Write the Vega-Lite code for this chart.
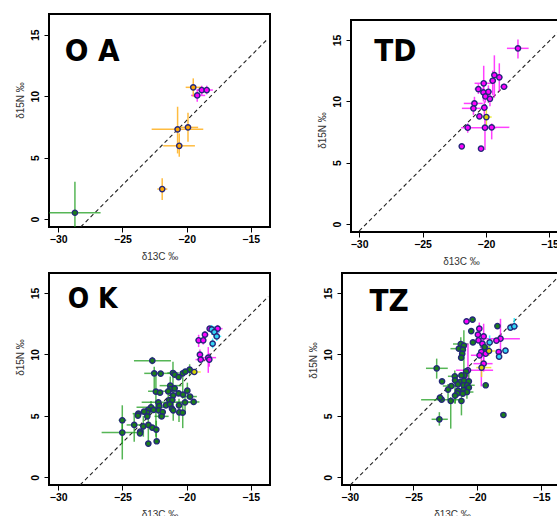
{
"$schema": "https://vega.github.io/schema/vega-lite/v6.json",
"padding": {"left": 14, "top": 13, "right": 0, "bottom": 0},
"config": {
  "view": {"stroke": "#000000", "strokeWidth": 2},
  "font": "Liberation Sans",
  "axis": {"grid": false, "domain": false, "tickColor": "#000000", "tickSize": 5, "tickWidth": 1, "labelFontSize": 10.5, "labelFontWeight": "bold", "labelColor": "#000000", "titleFontSize": 10, "titleFontWeight": "normal", "titleColor": "#333333", "labelFont": "Liberation Sans", "titleFont": "Liberation Sans"},
  "axisX": {"labelPadding": 2, "titlePadding": 7},
  "axisY": {"labelAngle": 270, "labelPadding": 4, "titlePadding": 5}
},
"datasets": {
  "lines": [
    {"p": "OA", "x1": -28.25, "y1": -0.65, "x2": -13.64, "y2": 14.7},
    {"p": "TD", "x1": -30.0, "y1": -0.57, "x2": -14.28, "y2": 15.67},
    {"p": "OK", "x1": -28.3, "y1": -0.63, "x2": -13.64, "y2": 14.7},
    {"p": "TZ", "x1": -29.95, "y1": -0.63, "x2": -13.63, "y2": 16.33}
  ],
  "labels": [
    {"p": "OA", "t": "O A", "x": -29.5, "y": 12.85},
    {"p": "TD", "t": "TD", "x": -28.8, "y": 13.3},
    {"p": "OK", "t": "O K", "x": -29.25, "y": 13.75},
    {"p": "TZ", "t": "TZ", "x": -28.45, "y": 13.5}
  ],
  "pts": [
    {"p": "OA", "g": "orange", "x": -19.48, "y": 10.72, "xl": -20.07, "xh": -18.82, "yl": 9.95, "yh": 11.45},
    {"p": "OA", "g": "orange", "x": -20.7, "y": 7.3, "xl": -22.72, "xh": -18.7, "yl": 5.34, "yh": 9.14},
    {"p": "OA", "g": "orange", "x": -19.89, "y": 7.46, "xl": -20.5, "xh": -19.1, "yl": 6.29, "yh": 8.65},
    {"p": "OA", "g": "orange", "x": -20.57, "y": 5.96, "xl": -21.82, "xh": -19.35, "yl": 5.07, "yh": 6.97},
    {"p": "OA", "g": "orange", "x": -21.9, "y": 2.44, "xl": -22.28, "xh": -21.5, "yl": 1.55, "yh": 3.31},
    {"p": "OA", "g": "green", "x": -28.7, "y": 0.51, "xl": -30.7, "xh": -26.7, "yl": -2.0, "yh": 3.04},
    {"p": "OA", "g": "magenta", "x": -18.82, "y": 10.5, "xl": -19.2, "xh": -18.45, "yl": 10.1, "yh": 10.85},
    {"p": "OA", "g": "magenta", "x": -18.43, "y": 10.5, "xl": -18.8, "xh": -17.95, "yl": 10.15, "yh": 10.85},
    {"p": "OA", "g": "magenta", "x": -19.17, "y": 10.06, "xl": -19.65, "xh": -18.55, "yl": 9.55, "yh": 10.55},

    {"p": "TD", "g": "magenta", "x": -17.48, "y": 14.32, "xl": -18.35, "xh": -16.64, "yl": 13.5, "yh": 15.05},
    {"p": "TD", "g": "magenta", "x": -19.34, "y": 12.14, "xl": -19.6, "xh": -19.05, "yl": 10.3, "yh": 13.75},
    {"p": "TD", "g": "magenta", "x": -18.95, "y": 11.96, "xl": -19.2, "xh": -18.7, "yl": 10.8, "yh": 13.1},
    {"p": "TD", "g": "magenta", "x": -19.47, "y": 11.68, "xl": -19.75, "xh": -19.2, "yl": 10.5, "yh": 12.5},
    {"p": "TD", "g": "magenta", "x": -20.18, "y": 11.47, "xl": -20.9, "xh": -19.47, "yl": 10.2, "yh": 12.9},
    {"p": "TD", "g": "magenta", "x": -18.58, "y": 11.19, "xl": -18.87, "xh": -18.29, "yl": 10.95, "yh": 11.45},
    {"p": "TD", "g": "magenta", "x": -20.6, "y": 11.0, "xl": -20.9, "xh": -20.2, "yl": 10.6, "yh": 11.4},
    {"p": "TD", "g": "magenta", "x": -20.2, "y": 10.73, "xl": -20.5, "xh": -19.9, "yl": 10.0, "yh": 11.3},
    {"p": "TD", "g": "magenta", "x": -19.81, "y": 10.78, "xl": -20.1, "xh": -19.5, "yl": 10.3, "yh": 11.3},
    {"p": "TD", "g": "magenta", "x": -20.05, "y": 10.4, "xl": -20.3, "xh": -19.8, "yl": 9.9, "yh": 10.9},
    {"p": "TD", "g": "magenta", "x": -19.69, "y": 10.21, "xl": -19.95, "xh": -19.45, "yl": 9.6, "yh": 10.8},
    {"p": "TD", "g": "magenta", "x": -20.91, "y": 9.83, "xl": -21.75, "xh": -20.26, "yl": 9.29, "yh": 10.37},
    {"p": "TD", "g": "magenta", "x": -20.99, "y": 9.43, "xl": -21.9, "xh": -20.1, "yl": 8.9, "yh": 9.9},
    {"p": "TD", "g": "magenta", "x": -20.13, "y": 9.48, "xl": -20.4, "xh": -19.85, "yl": 8.6, "yh": 10.0},
    {"p": "TD", "g": "magenta", "x": -20.52, "y": 8.78},
    {"p": "TD", "g": "yellow", "x": -19.97, "y": 8.72, "xl": -20.3, "xh": -19.55, "yl": 8.0, "yh": 9.3},
    {"p": "TD", "g": "magenta", "x": -21.44, "y": 7.85, "xl": -21.6, "xh": -21.2, "yl": 7.44, "yh": 8.2},
    {"p": "TD", "g": "magenta", "x": -20.08, "y": 7.85, "xl": -21.96, "xh": -19.2, "yl": 6.03, "yh": 8.88},
    {"p": "TD", "g": "magenta", "x": -19.55, "y": 7.88, "xl": -20.0, "xh": -18.16, "yl": 6.9, "yh": 8.2},
    {"p": "TD", "g": "magenta", "x": -21.91, "y": 6.33},
    {"p": "TD", "g": "magenta", "x": -20.39, "y": 6.14},

    {"p": "OK", "g": "green", "x": -22.67, "y": 9.49, "xl": -24.1, "xh": -21.22, "yl": 9.2, "yh": 9.8},
    {"p": "OK", "g": "green", "x": -22.52, "y": 8.46, "xl": -23.3, "xh": -21.04, "yl": 7.0, "yh": 9.0},
    {"p": "OK", "g": "green", "x": -22.02, "y": 8.44},
    {"p": "OK", "g": "green", "x": -21.06, "y": 8.49, "xl": -21.5, "xh": -20.6, "yl": 6.5, "yh": 9.4},
    {"p": "OK", "g": "green", "x": -20.93, "y": 8.36},
    {"p": "OK", "g": "green", "x": -20.3, "y": 8.46, "yl": 6.4, "yh": 8.6},
    {"p": "OK", "g": "green", "x": -20.62, "y": 8.16},
    {"p": "OK", "g": "green", "x": -19.76, "y": 8.76, "xl": -20.1, "xh": -19.4, "yl": 8.3, "yh": 9.2},
    {"p": "OK", "g": "green", "x": -20.1, "y": 8.6},
    {"p": "OK", "g": "green", "x": -21.27, "y": 7.46, "xl": -22.1, "xh": -20.4, "yl": 6.6, "yh": 8.2},
    {"p": "OK", "g": "green", "x": -21.24, "y": 7.19},
    {"p": "OK", "g": "green", "x": -20.93, "y": 7.24},
    {"p": "OK", "g": "green", "x": -21.43, "y": 7.0, "xl": -23.0, "xh": -20.5, "yl": 6.5, "yh": 7.5},
    {"p": "OK", "g": "green", "x": -22.39, "y": 6.97, "yl": 3.3, "yh": 8.4},
    {"p": "OK", "g": "green", "x": -22.07, "y": 6.89},
    {"p": "OK", "g": "green", "x": -19.94, "y": 7.05, "yl": 6.4, "yh": 7.7},
    {"p": "OK", "g": "green", "x": -20.62, "y": 6.83},
    {"p": "OK", "g": "green", "x": -20.28, "y": 6.73},
    {"p": "OK", "g": "green", "x": -19.73, "y": 6.57, "xl": -20.2, "xh": -19.2},
    {"p": "OK", "g": "green", "x": -21.04, "y": 6.67},
    {"p": "OK", "g": "green", "x": -21.35, "y": 6.29},
    {"p": "OK", "g": "green", "x": -21.11, "y": 6.29},
    {"p": "OK", "g": "green", "x": -20.12, "y": 6.1, "xl": -20.8, "xh": -19.2, "yl": 5.2, "yh": 7.1},
    {"p": "OK", "g": "green", "x": -19.45, "y": 6.13, "xl": -19.9, "xh": -19.0},
    {"p": "OK", "g": "green", "x": -22.2, "y": 6.1, "xl": -23.5, "xh": -20.26},
    {"p": "OK", "g": "green", "x": -22.13, "y": 5.8},
    {"p": "OK", "g": "green", "x": -21.61, "y": 5.86},
    {"p": "OK", "g": "green", "x": -21.3, "y": 5.94},
    {"p": "OK", "g": "green", "x": -20.59, "y": 5.86, "yl": 4.5, "yh": 6.4},
    {"p": "OK", "g": "green", "x": -21.14, "y": 5.59},
    {"p": "OK", "g": "green", "x": -21.04, "y": 5.45, "yl": 4.6, "yh": 6.2},
    {"p": "OK", "g": "green", "x": -20.57, "y": 5.29},
    {"p": "OK", "g": "green", "x": -20.3, "y": 5.26, "yl": 4.0, "yh": 6.0},
    {"p": "OK", "g": "green", "x": -22.77, "y": 5.7, "xl": -23.9, "xh": -21.7, "yl": 5.2, "yh": 6.2},
    {"p": "OK", "g": "green", "x": -22.99, "y": 5.48},
    {"p": "OK", "g": "green", "x": -22.57, "y": 5.48},
    {"p": "OK", "g": "green", "x": -22.17, "y": 5.45, "yl": 4.8, "yh": 6.0},
    {"p": "OK", "g": "green", "x": -21.86, "y": 5.31},
    {"p": "OK", "g": "green", "x": -23.06, "y": 5.26},
    {"p": "OK", "g": "green", "x": -23.32, "y": 5.35},
    {"p": "OK", "g": "green", "x": -23.76, "y": 5.18, "xl": -24.2, "xh": -23.2},
    {"p": "OK", "g": "green", "x": -23.79, "y": 5.02},
    {"p": "OK", "g": "green", "x": -23.06, "y": 4.96},
    {"p": "OK", "g": "green", "x": -21.94, "y": 4.96, "xl": -22.5, "xh": -21.4},
    {"p": "OK", "g": "green", "x": -25.01, "y": 4.64, "xl": -25.3, "xh": -24.7, "yl": 2.74, "yh": 5.86},
    {"p": "OK", "g": "green", "x": -24.08, "y": 4.26, "xl": -24.67, "xh": -22.7, "yl": 2.9, "yh": 5.2},
    {"p": "OK", "g": "green", "x": -23.37, "y": 4.15, "yl": 3.3, "yh": 5.0},
    {"p": "OK", "g": "green", "x": -22.98, "y": 4.26, "yl": 2.47, "yh": 4.9},
    {"p": "OK", "g": "green", "x": -22.67, "y": 4.04},
    {"p": "OK", "g": "green", "x": -22.36, "y": 3.88, "yl": 3.2, "yh": 4.6},
    {"p": "OK", "g": "green", "x": -23.61, "y": 3.72},
    {"p": "OK", "g": "green", "x": -23.63, "y": 3.58},
    {"p": "OK", "g": "green", "x": -25.01, "y": 3.64, "xl": -26.62, "xh": -23.5, "yl": 1.45, "yh": 4.7},
    {"p": "OK", "g": "green", "x": -22.98, "y": 2.74},
    {"p": "OK", "g": "green", "x": -22.33, "y": 2.93},
    {"p": "OK", "g": "yellow", "x": -19.4, "y": 8.57, "xl": -19.8, "xh": -18.9, "yl": 8.35, "yh": 8.8},
    {"p": "OK", "g": "magenta", "x": -18.57, "y": 11.61, "xl": -18.8, "xh": -18.3, "yl": 11.3, "yh": 11.9},
    {"p": "OK", "g": "magenta", "x": -19.06, "y": 11.15, "xl": -19.3, "xh": -18.8, "yl": 10.6, "yh": 11.6},
    {"p": "OK", "g": "magenta", "x": -18.7, "y": 11.15, "yl": 10.8, "yh": 11.5},
    {"p": "OK", "g": "magenta", "x": -18.96, "y": 9.98, "xl": -19.2, "xh": -18.7, "yl": 9.6, "yh": 10.4},
    {"p": "OK", "g": "magenta", "x": -18.9, "y": 9.58, "xl": -19.3, "xh": -18.4},
    {"p": "OK", "g": "magenta", "x": -18.31, "y": 9.74, "xl": -18.9, "xh": -17.7, "yl": 8.5, "yh": 10.6},
    {"p": "OK", "g": "magenta", "x": -18.23, "y": 9.58, "yl": 9.0, "yh": 10.1},
    {"p": "OK", "g": "magenta", "x": -17.58, "y": 12.1, "xl": -17.9, "xh": -17.2, "yl": 11.7, "yh": 12.4},
    {"p": "OK", "g": "magenta", "x": -18.2, "y": 12.1},
    {"p": "OK", "g": "cyan", "x": -18.04, "y": 12.04, "xl": -18.4, "xh": -17.6, "yl": 11.6, "yh": 12.4},
    {"p": "OK", "g": "cyan", "x": -17.84, "y": 11.82, "xl": -18.2, "xh": -17.4, "yl": 11.4, "yh": 12.3},
    {"p": "OK", "g": "cyan", "x": -17.65, "y": 11.47, "xl": -17.9, "xh": -17.3, "yl": 11.1, "yh": 11.9},
    {"p": "OK", "g": "cyan", "x": -17.97, "y": 10.88, "yl": 10.5, "yh": 11.3},

    {"p": "TZ", "g": "magenta", "x": -20.84, "y": 12.69},
    {"p": "TZ", "g": "magenta", "x": -19.84, "y": 12.1, "yl": 11.5, "yh": 12.6},
    {"p": "TZ", "g": "magenta", "x": -19.95, "y": 11.61},
    {"p": "TZ", "g": "magenta", "x": -19.5, "y": 11.47, "yl": 9.0, "yh": 12.5},
    {"p": "TZ", "g": "magenta", "x": -19.9, "y": 11.15},
    {"p": "TZ", "g": "magenta", "x": -19.6, "y": 10.88},
    {"p": "TZ", "g": "magenta", "x": -18.18, "y": 11.28, "xl": -19.7, "xh": -16.66, "yl": 10.06, "yh": 12.9},
    {"p": "TZ", "g": "magenta", "x": -18.5, "y": 11.12},
    {"p": "TZ", "g": "magenta", "x": -19.68, "y": 10.2, "yl": 7.4, "yh": 10.6},
    {"p": "TZ", "g": "magenta", "x": -19.34, "y": 10.06},
    {"p": "TZ", "g": "magenta", "x": -19.82, "y": 9.93, "xl": -20.5, "xh": -19.2},
    {"p": "TZ", "g": "magenta", "x": -19.5, "y": 9.25, "xl": -20.3, "xh": -18.8, "yl": 8.6, "yh": 9.9},
    {"p": "TZ", "g": "magenta", "x": -20.73, "y": 8.71, "xl": -21.66, "xh": -18.76, "yl": 7.2, "yh": 10.9},
    {"p": "TZ", "g": "magenta", "x": -18.32, "y": 10.2},
    {"p": "TZ", "g": "cyan", "x": -17.4, "y": 12.18},
    {"p": "TZ", "g": "cyan", "x": -17.1, "y": 12.29, "xl": -17.53, "xh": -16.79, "yl": 11.97, "yh": 12.97},
    {"p": "TZ", "g": "cyan", "x": -17.79, "y": 10.31},
    {"p": "TZ", "g": "cyan", "x": -18.29, "y": 9.82, "yl": 9.6, "yh": 10.4},
    {"p": "TZ", "g": "cyan", "x": -19.03, "y": 10.98, "yl": 10.47, "yh": 11.55},
    {"p": "TZ", "g": "yellow", "x": -19.08, "y": 10.28, "xl": -19.5, "xh": -18.6, "yl": 9.9, "yh": 10.7},
    {"p": "TZ", "g": "yellow", "x": -19.66, "y": 8.93, "xl": -20.08, "xh": -18.9, "yl": 8.16, "yh": 9.52},
    {"p": "TZ", "g": "green", "x": -20.37, "y": 12.83},
    {"p": "TZ", "g": "green", "x": -20.47, "y": 11.9},
    {"p": "TZ", "g": "green", "x": -18.42, "y": 12.31},
    {"p": "TZ", "g": "green", "x": -20.34, "y": 10.98},
    {"p": "TZ", "g": "green", "x": -21.29, "y": 10.85, "xl": -21.9, "xh": -20.7, "yl": 10.3, "yh": 11.4},
    {"p": "TZ", "g": "green", "x": -21.05, "y": 10.72, "yl": 7.75, "yh": 11.96},
    {"p": "TZ", "g": "green", "x": -21.44, "y": 10.47, "xl": -22.1, "xh": -20.9},
    {"p": "TZ", "g": "green", "x": -21.13, "y": 10.39},
    {"p": "TZ", "g": "green", "x": -21.18, "y": 10.06, "yl": 9.5, "yh": 10.6},
    {"p": "TZ", "g": "green", "x": -21.26, "y": 9.74},
    {"p": "TZ", "g": "green", "x": -19.42, "y": 10.6, "xl": -19.8, "xh": -19.0, "yl": 10.2, "yh": 11.0},
    {"p": "TZ", "g": "green", "x": -20.87, "y": 8.62},
    {"p": "TZ", "g": "green", "x": -23.18, "y": 8.87, "xl": -24.02, "xh": -22.31, "yl": 8.03, "yh": 9.66},
    {"p": "TZ", "g": "green", "x": -21.0, "y": 8.3},
    {"p": "TZ", "g": "green", "x": -21.76, "y": 8.22, "xl": -22.3, "xh": -21.2, "yl": 7.6, "yh": 8.7},
    {"p": "TZ", "g": "green", "x": -21.24, "y": 8.3},
    {"p": "TZ", "g": "green", "x": -22.76, "y": 7.81},
    {"p": "TZ", "g": "green", "x": -21.74, "y": 7.89, "yl": 6.0, "yh": 8.4},
    {"p": "TZ", "g": "green", "x": -21.32, "y": 7.76, "xl": -21.8, "xh": -20.8},
    {"p": "TZ", "g": "green", "x": -21.03, "y": 7.87},
    {"p": "TZ", "g": "green", "x": -20.66, "y": 7.81, "yl": 7.0, "yh": 8.6},
    {"p": "TZ", "g": "green", "x": -22.03, "y": 7.43, "xl": -22.7, "xh": -21.5},
    {"p": "TZ", "g": "green", "x": -21.52, "y": 7.57},
    {"p": "TZ", "g": "green", "x": -21.08, "y": 7.49, "yl": 6.8, "yh": 8.1},
    {"p": "TZ", "g": "green", "x": -20.79, "y": 7.49, "xl": -21.3, "xh": -20.2},
    {"p": "TZ", "g": "green", "x": -20.66, "y": 7.3},
    {"p": "TZ", "g": "green", "x": -22.29, "y": 7.14, "yl": 6.3, "yh": 7.6},
    {"p": "TZ", "g": "green", "x": -21.5, "y": 7.05},
    {"p": "TZ", "g": "green", "x": -21.08, "y": 7.1},
    {"p": "TZ", "g": "green", "x": -20.81, "y": 6.94, "xl": -21.3, "xh": -20.3, "yl": 6.4, "yh": 7.5},
    {"p": "TZ", "g": "green", "x": -21.55, "y": 6.83},
    {"p": "TZ", "g": "green", "x": -21.74, "y": 6.65, "yl": 6.0, "yh": 7.2},
    {"p": "TZ", "g": "green", "x": -21.13, "y": 6.81},
    {"p": "TZ", "g": "green", "x": -19.34, "y": 7.49},
    {"p": "TZ", "g": "green", "x": -21.24, "y": 6.21, "yl": 5.04, "yh": 7.08},
    {"p": "TZ", "g": "green", "x": -22.08, "y": 6.21, "yl": 3.96, "yh": 6.53},
    {"p": "TZ", "g": "green", "x": -22.79, "y": 6.32, "xl": -24.4, "xh": -21.4},
    {"p": "TZ", "g": "green", "x": -22.92, "y": 6.48},
    {"p": "TZ", "g": "green", "x": -22.97, "y": 4.72, "xl": -23.58, "xh": -22.31, "yl": 4.2, "yh": 5.3},
    {"p": "TZ", "g": "green", "x": -17.95, "y": 5.07}
  ]
},
"spacing": 4,
"vconcat": [
  {"hconcat": [
    {"width": 221, "height": 213,
     "layer": [
      {"data": {"name": "lines"}, "transform": [{"filter": "datum.p === 'OA'"}],
       "mark": {"type": "rule", "strokeDash": [4, 3], "color": "#222222", "strokeWidth": 1.1, "clip": true},
       "encoding": {"x": {"field": "x1", "type": "quantitative", "scale": {"domain": [-30.72, -13.5], "nice": false, "zero": false}, "axis": {"values": [-30, -25, -20, -15], "title": "δ13C ‰"}},
                    "y": {"field": "y1", "type": "quantitative", "scale": {"domain": [-0.65, 16.69], "nice": false, "zero": false}, "axis": {"values": [0, 5, 10, 15], "title": "δ15N ‰", "titleY": 86}},
                    "x2": {"field": "x2"}, "y2": {"field": "y2"}}},
      {"data": {"name": "pts"}, "transform": [{"filter": "datum.p === 'OA' && isValid(datum.xl)"}],
       "mark": {"type": "rule", "strokeWidth": 1.5, "opacity": 0.75, "clip": true},
       "encoding": {"x": {"field": "xl", "type": "quantitative"}, "x2": {"field": "xh"}, "y": {"field": "y", "type": "quantitative"},
                    "color": {"field": "g", "type": "nominal", "scale": {"domain": ["orange", "magenta", "green", "cyan", "yellow"], "range": ["#FFA500", "#FF00FF", "#1E9E1E", "#00E5FF", "#E6E600"]}, "legend": null}}},
      {"data": {"name": "pts"}, "transform": [{"filter": "datum.p === 'OA' && isValid(datum.yl)"}],
       "mark": {"type": "rule", "strokeWidth": 1.5, "opacity": 0.75, "clip": true},
       "encoding": {"x": {"field": "x", "type": "quantitative"}, "y": {"field": "yl", "type": "quantitative"}, "y2": {"field": "yh"},
                    "color": {"field": "g", "type": "nominal", "legend": null}}},
      {"data": {"name": "pts"}, "transform": [{"filter": "datum.p === 'OA'"}],
       "mark": {"type": "circle", "size": 28, "stroke": "#25287a", "strokeWidth": 1.4, "opacity": 1, "clip": true},
       "encoding": {"x": {"field": "x", "type": "quantitative"}, "y": {"field": "y", "type": "quantitative"},
                    "fill": {"field": "g", "type": "nominal", "scale": {"domain": ["orange", "magenta", "green", "cyan", "yellow"], "range": ["#FFA500", "#FF00FF", "#1A7F1A", "#33D6F5", "#D4D400"]}, "legend": null}}},
      {"data": {"name": "labels"}, "transform": [{"filter": "datum.p === 'OA'"}],
       "mark": {"type": "text", "align": "left", "baseline": "alphabetic", "fontSize": 31, "fontWeight": "bold", "font": "DejaVu Sans Condensed", "color": "#000000"},
       "encoding": {"x": {"field": "x", "type": "quantitative"}, "y": {"field": "y", "type": "quantitative"}, "text": {"field": "t"}}}
     ]},
    {"vconcat": [
      {"width": 220, "height": 5, "data": {"values": []}, "mark": "point", "view": {"stroke": null}},
      {"width": 220, "height": 212,
       "layer": [
        {"data": {"name": "lines"}, "transform": [{"filter": "datum.p === 'TD'"}],
         "mark": {"type": "rule", "strokeDash": [4, 3], "color": "#222222", "strokeWidth": 1.1, "clip": true},
         "encoding": {"x": {"field": "x1", "type": "quantitative", "scale": {"domain": [-30.64, -13.3], "nice": false, "zero": false}, "axis": {"values": [-30, -25, -20, -15], "title": "δ13C ‰"}},
                      "y": {"field": "y1", "type": "quantitative", "scale": {"domain": [-0.65, 16.63], "nice": false, "zero": false}, "axis": {"values": [0, 5, 10, 15], "title": "δ15N ‰", "titleY": 110}},
                      "x2": {"field": "x2"}, "y2": {"field": "y2"}}},
        {"data": {"name": "pts"}, "transform": [{"filter": "datum.p === 'TD' && isValid(datum.xl)"}],
         "mark": {"type": "rule", "strokeWidth": 1.5, "opacity": 0.75, "clip": true},
         "encoding": {"x": {"field": "xl", "type": "quantitative"}, "x2": {"field": "xh"}, "y": {"field": "y", "type": "quantitative"},
                      "color": {"field": "g", "type": "nominal", "scale": {"domain": ["orange", "magenta", "green", "cyan", "yellow"], "range": ["#FFA500", "#FF00FF", "#1E9E1E", "#00E5FF", "#E6E600"]}, "legend": null}}},
        {"data": {"name": "pts"}, "transform": [{"filter": "datum.p === 'TD' && isValid(datum.yl)"}],
         "mark": {"type": "rule", "strokeWidth": 1.5, "opacity": 0.75, "clip": true},
         "encoding": {"x": {"field": "x", "type": "quantitative"}, "y": {"field": "yl", "type": "quantitative"}, "y2": {"field": "yh"},
                      "color": {"field": "g", "type": "nominal", "legend": null}}},
        {"data": {"name": "pts"}, "transform": [{"filter": "datum.p === 'TD'"}],
         "mark": {"type": "circle", "size": 28, "stroke": "#25287a", "strokeWidth": 1.4, "opacity": 1, "clip": true},
         "encoding": {"x": {"field": "x", "type": "quantitative"}, "y": {"field": "y", "type": "quantitative"},
                      "fill": {"field": "g", "type": "nominal", "scale": {"domain": ["orange", "magenta", "green", "cyan", "yellow"], "range": ["#FFA500", "#FF00FF", "#1A7F1A", "#33D6F5", "#D4D400"]}, "legend": null}}},
        {"data": {"name": "labels"}, "transform": [{"filter": "datum.p === 'TD'"}],
         "mark": {"type": "text", "align": "left", "baseline": "alphabetic", "fontSize": 31, "fontWeight": "bold", "font": "DejaVu Sans Condensed", "color": "#000000"},
         "encoding": {"x": {"field": "x", "type": "quantitative"}, "y": {"field": "y", "type": "quantitative"}, "text": {"field": "t"}}}
       ]}
    ], "spacing": 0}
  ], "spacing": 45},
  {"hconcat": [
    {"width": 221, "height": 212,
     "layer": [
      {"data": {"name": "lines"}, "transform": [{"filter": "datum.p === 'OK'"}],
       "mark": {"type": "rule", "strokeDash": [4, 3], "color": "#222222", "strokeWidth": 1.1, "clip": true},
       "encoding": {"x": {"field": "x1", "type": "quantitative", "scale": {"domain": [-30.72, -13.5], "nice": false, "zero": false}, "axis": {"values": [-30, -25, -20, -15], "title": "δ13C ‰"}},
                    "y": {"field": "y1", "type": "quantitative", "scale": {"domain": [-0.63, 16.63], "nice": false, "zero": false}, "axis": {"values": [0, 5, 10, 15], "title": "δ15N ‰", "titleY": 84}},
                    "x2": {"field": "x2"}, "y2": {"field": "y2"}}},
      {"data": {"name": "pts"}, "transform": [{"filter": "datum.p === 'OK' && isValid(datum.xl)"}],
       "mark": {"type": "rule", "strokeWidth": 1.5, "opacity": 0.75, "clip": true},
       "encoding": {"x": {"field": "xl", "type": "quantitative"}, "x2": {"field": "xh"}, "y": {"field": "y", "type": "quantitative"},
                    "color": {"field": "g", "type": "nominal", "scale": {"domain": ["orange", "magenta", "green", "cyan", "yellow"], "range": ["#FFA500", "#FF00FF", "#1E9E1E", "#00E5FF", "#E6E600"]}, "legend": null}}},
      {"data": {"name": "pts"}, "transform": [{"filter": "datum.p === 'OK' && isValid(datum.yl)"}],
       "mark": {"type": "rule", "strokeWidth": 1.5, "opacity": 0.75, "clip": true},
       "encoding": {"x": {"field": "x", "type": "quantitative"}, "y": {"field": "yl", "type": "quantitative"}, "y2": {"field": "yh"},
                    "color": {"field": "g", "type": "nominal", "legend": null}}},
      {"data": {"name": "pts"}, "transform": [{"filter": "datum.p === 'OK'"}],
       "mark": {"type": "circle", "size": 28, "stroke": "#25287a", "strokeWidth": 1.4, "opacity": 1, "clip": true},
       "encoding": {"x": {"field": "x", "type": "quantitative"}, "y": {"field": "y", "type": "quantitative"},
                    "fill": {"field": "g", "type": "nominal", "scale": {"domain": ["orange", "magenta", "green", "cyan", "yellow"], "range": ["#FFA500", "#FF00FF", "#1A7F1A", "#33D6F5", "#D4D400"]}, "legend": null}}},
      {"data": {"name": "labels"}, "transform": [{"filter": "datum.p === 'OK'"}],
       "mark": {"type": "text", "align": "left", "baseline": "alphabetic", "fontSize": 28, "fontWeight": "bold", "font": "DejaVu Sans Condensed", "color": "#000000"},
       "encoding": {"x": {"field": "x", "type": "quantitative"}, "y": {"field": "y", "type": "quantitative"}, "text": {"field": "t"}}}
     ]},
    {"width": 220, "height": 212,
     "layer": [
      {"data": {"name": "lines"}, "transform": [{"filter": "datum.p === 'TZ'"}],
       "mark": {"type": "rule", "strokeDash": [4, 3], "color": "#222222", "strokeWidth": 1.1, "clip": true},
       "encoding": {"x": {"field": "x1", "type": "quantitative", "scale": {"domain": [-30.6, -13.36], "nice": false, "zero": false}, "axis": {"values": [-30, -25, -20, -15], "title": "δ13C ‰"}},
                    "y": {"field": "y1", "type": "quantitative", "scale": {"domain": [-0.63, 16.63], "nice": false, "zero": false}, "axis": {"values": [0, 5, 10, 15], "title": "δ15N ‰", "titleY": 87}},
                    "x2": {"field": "x2"}, "y2": {"field": "y2"}}},
      {"data": {"name": "pts"}, "transform": [{"filter": "datum.p === 'TZ' && isValid(datum.xl)"}],
       "mark": {"type": "rule", "strokeWidth": 1.5, "opacity": 0.75, "clip": true},
       "encoding": {"x": {"field": "xl", "type": "quantitative"}, "x2": {"field": "xh"}, "y": {"field": "y", "type": "quantitative"},
                    "color": {"field": "g", "type": "nominal", "scale": {"domain": ["orange", "magenta", "green", "cyan", "yellow"], "range": ["#FFA500", "#FF00FF", "#1E9E1E", "#00E5FF", "#E6E600"]}, "legend": null}}},
      {"data": {"name": "pts"}, "transform": [{"filter": "datum.p === 'TZ' && isValid(datum.yl)"}],
       "mark": {"type": "rule", "strokeWidth": 1.5, "opacity": 0.75, "clip": true},
       "encoding": {"x": {"field": "x", "type": "quantitative"}, "y": {"field": "yl", "type": "quantitative"}, "y2": {"field": "yh"},
                    "color": {"field": "g", "type": "nominal", "legend": null}}},
      {"data": {"name": "pts"}, "transform": [{"filter": "datum.p === 'TZ'"}],
       "mark": {"type": "circle", "size": 28, "stroke": "#25287a", "strokeWidth": 1.4, "opacity": 1, "clip": true},
       "encoding": {"x": {"field": "x", "type": "quantitative"}, "y": {"field": "y", "type": "quantitative"},
                    "fill": {"field": "g", "type": "nominal", "scale": {"domain": ["orange", "magenta", "green", "cyan", "yellow"], "range": ["#FFA500", "#FF00FF", "#1A7F1A", "#33D6F5", "#D4D400"]}, "legend": null}}},
      {"data": {"name": "labels"}, "transform": [{"filter": "datum.p === 'TZ'"}],
       "mark": {"type": "text", "align": "left", "baseline": "alphabetic", "fontSize": 31, "fontWeight": "bold", "font": "DejaVu Sans Condensed", "color": "#000000"},
       "encoding": {"x": {"field": "x", "type": "quantitative"}, "y": {"field": "y", "type": "quantitative"}, "text": {"field": "t"}}}
     ]}
  ], "spacing": 36}
]
}
